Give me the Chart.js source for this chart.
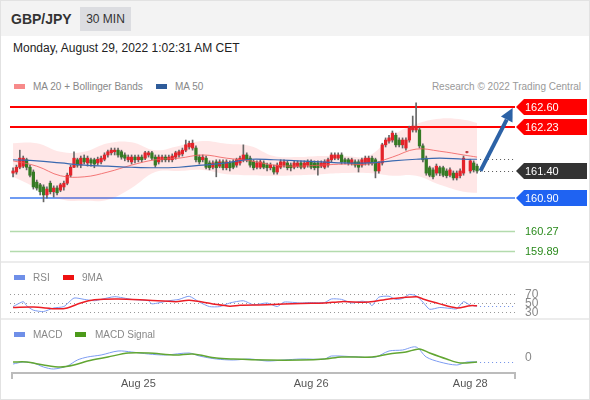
<!DOCTYPE html>
<html>
<head>
<meta charset="utf-8">
<script src="https://cdn.jsdelivr.net/npm/chart.js@4.4.1/dist/chart.umd.min.js"></script>
<style>
  body { margin: 0; background: #fff; font-family: "Liberation Sans", Arial, sans-serif; }
  #wrap { position: relative; width: 590px; height: 400px; overflow: hidden; background: #fff; }
  #frame { position: absolute; left: 0; top: 0; width: 590px; height: 400px; box-sizing: border-box; border: 1px solid #e2e2e2; pointer-events: none; }
  #head { position: absolute; left: 0; top: 0; width: 590px; height: 36px; background: #f3f3f3; }
  #pair { position: absolute; left: 11px; top: 10px; font-size: 14px; line-height: 18px; font-weight: bold; color: #333; }
  #tf { position: absolute; left: 80px; top: 7px; width: 51px; height: 24px; line-height: 24px; text-align: center; background: #dcdde1; font-size: 12px; color: #333; }
  #date { position: absolute; left: 13px; top: 40px; font-size: 12px; line-height: 16px; color: #222; }
  .txt { position: absolute; font-size: 10px; line-height: 13px; color: #888; white-space: nowrap; }
  .sw { position: absolute; width: 11px; height: 5px; }
  .sep { position: absolute; left: 0; width: 590px; height: 2px; background: #ececec; }
  canvas { position: absolute; left: 0; }
</style>
</head>
<body>
<div id="wrap">
  <div id="head"></div>
  <div id="pair">GBP/JPY</div>
  <div id="tf">30 MIN</div>
  <div id="date">Monday, August 29, 2022 1:02:31 AM CET</div>

  <canvas id="mainChart" width="590" height="167" style="top:95px"></canvas>
  <div class="sep" style="top:261px"></div>
  <canvas id="rsiChart" width="590" height="56" style="top:263px"></canvas>
  <div class="sep" style="top:318px"></div>
  <canvas id="macdChart" width="590" height="80" style="top:320px"></canvas>

  <div class="sw" style="left:14px;top:84px;background:#f78a8a"></div>
  <div class="txt" style="left:33px;top:80px">MA 20 + Bollinger Bands</div>
  <div class="sw" style="left:156px;top:84px;background:#2f5c9a"></div>
  <div class="txt" style="left:175px;top:80px">MA 50</div>
  <div class="txt" style="right:9px;top:80px;color:#999">Research © 2022 Trading Central</div>

  <div class="sw" style="left:14px;top:275px;background:#6f8fe8"></div>
  <div class="txt" style="left:33px;top:271px">RSI</div>
  <div class="sw" style="left:63px;top:275px;background:#ee1111"></div>
  <div class="txt" style="left:82px;top:271px">9MA</div>

  <div class="sw" style="left:14px;top:332px;background:#6f8fe8"></div>
  <div class="txt" style="left:33px;top:328px">MACD</div>
  <div class="sw" style="left:75px;top:332px;background:#4c9a1a"></div>
  <div class="txt" style="left:95px;top:328px">MACD Signal</div>
  <div id="frame"></div>
</div>
<script>
'use strict';
// 30 min candles, oldest first
let opens = [
  161.36,161.38,161.47,161.49,161.61,161.47,161.38,161.19,161.14,161.10,
  160.95,161.17,161.01,161.08,161.04,161.10,161.17,161.32,161.47,161.61,
  161.51,161.64,161.55,161.61,161.61,161.55,161.57,161.62,161.70,161.74,
  161.76,161.79,161.76,161.70,161.61,161.57,161.66,161.61,161.66,161.64,
  161.70,161.74,161.66,161.57,161.61,161.66,161.61,161.61,161.66,161.70,
  161.72,161.79,161.85,161.83,161.83,161.66,161.61,161.64,161.55,161.47,
  161.57,161.49,161.57,161.46,161.55,161.57,161.51,161.55,161.61,161.70,
  161.64,161.57,161.47,161.47,161.55,161.51,161.46,161.47,161.38,161.47,
  161.51,161.55,161.51,161.47,161.49,161.55,161.47,161.51,161.57,161.55,
  161.55,161.49,161.47,161.51,161.61,161.64,161.64,161.70,161.61,161.61,
  161.55,161.57,161.57,161.51,161.55,161.55,161.64,161.61,161.40,161.55,
  161.89,161.96,161.98,162.07,161.98,161.89,161.83,161.98,162.17,162.17,
  162.17,161.87,161.64,161.46,161.42,161.36,161.46,161.46,161.40,161.32,
  161.36,161.27,161.31,161.36,161.75,161.40,161.55,161.49
];
let highs = [
  161.46,161.51,161.79,161.68,161.64,161.51,161.42,161.23,161.17,161.14,
  161.10,161.21,161.12,161.12,161.17,161.21,161.36,161.51,161.76,161.64,
  161.68,161.70,161.68,161.64,161.64,161.66,161.68,161.74,161.79,161.83,
  161.83,161.83,161.79,161.74,161.70,161.70,161.70,161.70,161.70,161.77,
  161.77,161.77,161.70,161.70,161.70,161.70,161.70,161.72,161.77,161.79,
  161.83,161.98,161.96,161.98,161.87,161.70,161.70,161.68,161.59,161.59,
  161.61,161.61,161.61,161.61,161.59,161.61,161.64,161.68,161.89,161.74,
  161.68,161.61,161.59,161.61,161.59,161.55,161.55,161.51,161.55,161.61,
  161.61,161.59,161.55,161.59,161.59,161.59,161.59,161.61,161.61,161.59,
  161.59,161.59,161.61,161.64,161.74,161.74,161.74,161.74,161.64,161.64,
  161.64,161.61,161.61,161.64,161.68,161.68,161.68,161.64,161.57,161.92,
  162.02,162.07,162.15,162.11,162.02,162.02,162.02,162.24,162.43,162.68,
  162.21,161.91,161.68,161.49,161.46,161.53,161.49,161.49,161.44,161.46,
  161.40,161.40,161.44,161.68,161.77,161.62,161.59,161.53
];
let lows = [
  161.29,161.34,161.44,161.46,161.42,161.29,161.06,161.04,160.95,160.82,
  160.89,160.97,160.91,160.95,161.01,161.04,161.14,161.29,161.46,161.47,
  161.46,161.53,161.49,161.49,161.46,161.51,161.53,161.59,161.66,161.70,
  161.70,161.66,161.62,161.59,161.57,161.53,161.55,161.57,161.57,161.61,
  161.66,161.61,161.47,161.53,161.57,161.57,161.57,161.57,161.62,161.66,
  161.68,161.76,161.81,161.79,161.57,161.53,161.57,161.44,161.42,161.44,
  161.29,161.46,161.42,161.42,161.40,161.44,161.47,161.51,161.57,161.57,
  161.47,161.42,161.44,161.44,161.44,161.40,161.42,161.34,161.34,161.44,
  161.47,161.42,161.40,161.44,161.46,161.44,161.44,161.47,161.44,161.42,
  161.32,161.46,161.44,161.47,161.57,161.61,161.61,161.53,161.53,161.51,
  161.51,161.47,161.38,161.47,161.51,161.51,161.51,161.27,161.36,161.51,
  161.85,161.92,161.94,161.85,161.85,161.83,161.79,161.94,162.13,162.13,
  161.83,161.57,161.32,161.29,161.25,161.32,161.31,161.29,161.27,161.29,
  161.23,161.23,161.27,161.32,161.74,161.36,161.38,161.36
];
let closes = [
  161.40,161.47,161.64,161.64,161.47,161.32,161.10,161.08,161.01,160.95,
  161.06,161.01,161.08,160.99,161.14,161.17,161.32,161.47,161.64,161.51,
  161.64,161.57,161.64,161.55,161.53,161.62,161.64,161.70,161.76,161.79,
  161.79,161.70,161.66,161.64,161.66,161.66,161.61,161.66,161.61,161.74,
  161.74,161.64,161.51,161.66,161.66,161.61,161.66,161.68,161.74,161.76,
  161.79,161.89,161.92,161.92,161.61,161.57,161.66,161.47,161.46,161.55,
  161.46,161.57,161.46,161.57,161.46,161.47,161.61,161.64,161.70,161.61,
  161.51,161.46,161.55,161.57,161.47,161.46,161.51,161.38,161.51,161.57,
  161.57,161.46,161.46,161.55,161.55,161.47,161.55,161.57,161.47,161.46,
  161.46,161.55,161.57,161.61,161.70,161.70,161.70,161.57,161.57,161.55,
  161.61,161.51,161.47,161.61,161.64,161.64,161.55,161.40,161.55,161.89,
  161.98,162.02,162.11,161.89,161.89,161.98,161.98,162.21,162.24,162.24,
  161.87,161.61,161.36,161.32,161.29,161.49,161.36,161.32,161.31,161.42,
  161.27,161.36,161.40,161.64,161.76,161.59,161.42,161.40
];

// overlays, read at every 7th candle
let maIdx = [0,7,14,21,28,35,42,49,56,63,70,77,84,91,98,105,112,119,126,133,137];
let ma20 = [161.59,161.49,161.31,161.29,161.38,161.51,161.61,161.64,161.70,161.64,161.59,161.51,161.49,161.51,161.53,161.53,161.66,161.81,161.77,161.70,161.66];
let ma50 = [161.61,161.59,161.55,161.51,161.49,161.47,161.46,161.47,161.51,161.55,161.62,161.61,161.59,161.57,161.55,161.55,161.59,161.62,161.64,161.62,161.62];
let bbUp = [161.92,161.92,161.76,161.76,161.92,161.94,161.79,161.87,161.96,161.91,161.87,161.68,161.66,161.68,161.68,161.68,162.06,162.28,162.38,162.36,162.30];
let bbLow = [161.29,161.08,160.87,160.84,160.86,161.08,161.38,161.40,161.42,161.34,161.32,161.31,161.32,161.34,161.36,161.36,161.31,161.31,161.14,161.01,160.99];

let rsiIdx = [0,3,4,6,9,12,15,18,21,24,26,30,35,40,41,46,49,52,55,58,61,64,68,71,75,78,80,85,87,92,94,97,100,103,105,106,108,111,113,115,117,119,121,123,126,129,131,133,135,137];
let rsiVals = [42,53,44,34,31,39,42,61,58,55,58,64,58,55,48,55,58,65,52,42,42,50,55,46,50,42,52,50,51,51,59,58,50,54,51,44,63,65,58,60,69,66,52,36,40,38,37,53,45,43];
let ma9Idx = [0,6,13,16,20,24,31,40,48,52,59,64,67,75,85,92,97,105,111,119,121,126,131,135,137];
let ma9Vals = [40,41,37,39,50,57,59,56,53,56,48,43,45,46,49,50,53,52,59,64,59,48,39,44,44];

let macdIdx = [0,3,6,9,12,16,19,22,26,31,35,40,45,52,55,60,65,70,75,80,85,92,94,102,107,111,115,119,122,126,131,134,137];
let macdVals = [-0.06,-0.04,-0.05,-0.09,-0.11,-0.08,-0.02,0.01,0.03,0.07,0.06,0.04,0.03,0.05,0.02,-0.01,-0.02,-0.01,-0.03,-0.02,-0.01,-0.01,0.02,0.01,0.01,0.07,0.08,0.11,0.01,-0.04,-0.07,-0.04,-0.04];
let signalIdx = [0,4,9,14,18,22,28,34,40,48,53,60,65,75,85,92,97,106,111,116,120,123,128,132,137];
let signalVals = [-0.04,-0.04,-0.07,-0.09,-0.07,-0.03,0.01,0.05,0.05,0.03,0.04,0.00,-0.01,-0.02,-0.02,-0.01,0.01,0.01,0.04,0.06,0.09,0.05,-0.01,-0.05,-0.04];

let resistLevels = [162.60, 162.23];
let lastPrice = 161.40;
let supportLevel = 160.90;
let targetLevels = [160.27, 159.89];
let rsiLevels = [70, 50, 30];
let dayLabels = ['Aug 25', 'Aug 26', 'Aug 28'];
let dayIdx = [37, 88, 135];

let xMin = -0.9;
let xMax = 148.2;
let lastIdx = closes.length - 1;
let FONT = '"Liberation Sans", Arial, sans-serif';

function pts(idx, vals) {
    let out = [];
    for (let i = 0; i < idx.length; i++) {
        out.push({ x: idx[i], y: vals[i] });
    }
    return out;
}

let wickData = [];
let bodyData = [];
let bodyColors = [];
for (let i = 0; i < closes.length; i++) {
    wickData.push({ x: i, y: [lows[i], highs[i]] });
    bodyData.push({ x: i, y: [opens[i], closes[i]] });
    bodyColors.push(closes[i] >= opens[i] ? '#e3232a' : '#357a24');
}

function hLine(ctx, x1, x2, y, color, width, dash) {
    ctx.save();
    ctx.strokeStyle = color;
    ctx.lineWidth = width;
    ctx.setLineDash(dash || []);
    ctx.beginPath();
    ctx.moveTo(x1, y);
    ctx.lineTo(x2, y);
    ctx.stroke();
    ctx.restore();
}

function tag(ctx, x, y, text, bg, fg) {
    ctx.save();
    if (bg) {
        ctx.fillStyle = bg;
        ctx.beginPath();
        ctx.moveTo(x, y);
        ctx.lineTo(x + 8, y - 8);
        ctx.lineTo(x + 71, y - 8);
        ctx.lineTo(x + 71, y + 8);
        ctx.lineTo(x + 8, y + 8);
        ctx.closePath();
        ctx.fill();
    }
    ctx.fillStyle = fg;
    ctx.font = '11px ' + FONT;
    ctx.textBaseline = 'middle';
    ctx.fillText(text, x + 9, y + 0.5);
    ctx.restore();
}

let mainDeco = {
    id: 'mainDeco',
    beforeDatasetsDraw(chart) {
        let ctx = chart.ctx;
        let ys = chart.scales.y;
        let a = chart.chartArea;
        for (let v of resistLevels) {
            hLine(ctx, a.left, a.right, Math.round(ys.getPixelForValue(v)), '#ff0000', 2);
        }
        hLine(ctx, a.left, a.right, Math.round(ys.getPixelForValue(supportLevel)), '#6f9cf3', 2);
        for (let v of targetLevels) {
            hLine(ctx, a.left, a.right, Math.round(ys.getPixelForValue(v)) + 0.5, '#b3dbad', 1.5);
        }
    },
    afterDraw(chart) {
        let ctx = chart.ctx;
        let xs = chart.scales.x;
        let ys = chart.scales.y;
        let a = chart.chartArea;
        let xl = xs.getPixelForValue(lastIdx) + 3;

        // dotted lines to the last price and last MA 50
        hLine(ctx, xl, a.right, Math.round(ys.getPixelForValue(lastPrice)) + 0.5, '#555', 1, [1, 3]);
        hLine(ctx, xl, a.right, Math.round(ys.getPixelForValue(ma50[ma50.length - 1])) + 0.5, '#555', 1, [1, 3]);

        for (let v of resistLevels) {
            tag(ctx, a.right + 1, Math.round(ys.getPixelForValue(v)), v.toFixed(2), '#ff0000', '#fff');
        }
        tag(ctx, a.right + 1, Math.round(ys.getPixelForValue(lastPrice)), lastPrice.toFixed(2), '#333333', '#fff');
        tag(ctx, a.right + 1, Math.round(ys.getPixelForValue(supportLevel)), supportLevel.toFixed(2), '#1f63f2', '#fff');
        for (let v of targetLevels) {
            tag(ctx, a.right + 1, Math.round(ys.getPixelForValue(v)), v.toFixed(2), null, '#2a8a1c');
        }

        // arrow towards the first resistance
        let x0 = xs.getPixelForValue(lastIdx + 1);
        let y0 = ys.getPixelForValue(lastPrice);
        let x1 = xs.getPixelForValue(xMax - 0.7);
        let y1 = ys.getPixelForValue(resistLevels[0]) + 1;
        let ang = Math.atan2(y1 - y0, x1 - x0);
        let hl = 13, hw = 6.5;
        let bx = x1 - hl * Math.cos(ang);
        let by = y1 - hl * Math.sin(ang);
        ctx.save();
        ctx.strokeStyle = '#2c62a6';
        ctx.fillStyle = '#2c62a6';
        ctx.lineWidth = 4;
        ctx.beginPath();
        ctx.moveTo(x0, y0);
        ctx.lineTo(bx, by);
        ctx.stroke();
        ctx.beginPath();
        ctx.moveTo(x1, y1);
        ctx.lineTo(bx + hw * Math.sin(ang), by - hw * Math.cos(ang));
        ctx.lineTo(bx - hw * Math.sin(ang), by + hw * Math.cos(ang));
        ctx.closePath();
        ctx.fill();
        ctx.restore();
    }
};

let rsiDeco = {
    id: 'rsiDeco',
    beforeDatasetsDraw(chart) {
        let ys = chart.scales.y;
        let a = chart.chartArea;
        for (let v of rsiLevels) {
            hLine(chart.ctx, a.left, a.right, Math.round(ys.getPixelForValue(v)) + 0.5, '#999', 1, [1, 3]);
        }
    },
    afterDraw(chart) {
        let ctx = chart.ctx;
        let xs = chart.scales.x;
        let ys = chart.scales.y;
        let a = chart.chartArea;
        hLine(ctx, xs.getPixelForValue(lastIdx) + 3, a.right, Math.round(ys.getPixelForValue(rsiVals[rsiVals.length - 1])) + 0.5, '#6f8fe8', 1, [1, 3]);
        ctx.save();
        ctx.font = '12px ' + FONT;
        ctx.textBaseline = 'middle';
        for (let v of rsiLevels) {
            let y = Math.round(ys.getPixelForValue(v));
            ctx.fillStyle = '#fff';
            ctx.fillRect(a.right + 8, y - 5, 22, 10);
            ctx.fillStyle = '#888';
            ctx.fillText(String(v), a.right + 10, y + 0.5);
        }
        ctx.restore();
    }
};

let macdDeco = {
    id: 'macdDeco',
    afterDraw(chart) {
        let ctx = chart.ctx;
        let xs = chart.scales.x;
        let ys = chart.scales.y;
        let a = chart.chartArea;
        hLine(ctx, xs.getPixelForValue(lastIdx) + 3, a.right, Math.round(ys.getPixelForValue(macdVals[macdVals.length - 1])) + 0.5, '#6f8fe8', 1, [1, 3]);
        ctx.save();
        ctx.font = '12px ' + FONT;
        ctx.textBaseline = 'middle';
        ctx.fillStyle = '#888';
        ctx.fillText('0', a.right + 10, Math.round(ys.getPixelForValue(0)));

        // time axis
        let yb = Math.round(a.bottom) + 1;
        ctx.strokeStyle = '#bcbcbc';
        ctx.lineWidth = 2;
        ctx.beginPath();
        ctx.moveTo(a.left + 2, yb + 6);
        ctx.lineTo(a.left + 2, yb);
        ctx.lineTo(a.right, yb);
        ctx.lineTo(a.right, yb + 6);
        ctx.stroke();
        ctx.font = '11px ' + FONT;
        ctx.fillStyle = '#555';
        ctx.textAlign = 'center';
        for (let k = 0; k < dayLabels.length; k++) {
            ctx.fillText(dayLabels[k], xs.getPixelForValue(dayIdx[k]), yb + 11);
        }
        ctx.restore();
    }
};

let baseOptions = function (yMin, yMax, padBottom) {
    return {
        responsive: false,
        animation: false,
        devicePixelRatio: 1,
        layout: { padding: { left: 10, right: 75, top: 0, bottom: padBottom } },
        plugins: { legend: { display: false }, tooltip: { enabled: false } },
        scales: {
            x: { type: 'linear', min: xMin, max: xMax, offset: false, display: false },
            y: { type: 'linear', min: yMin, max: yMax, display: false }
        }
    };
};

new Chart(document.getElementById('mainChart'), {
    type: 'bar',
    data: {
        datasets: [
            { type: 'line', data: pts(maIdx, bbUp), borderWidth: 0, pointRadius: 0, tension: 0.4,
              fill: '+1', backgroundColor: 'rgba(255, 70, 70, 0.13)', order: 10 },
            { type: 'line', data: pts(maIdx, bbLow), borderWidth: 0, pointRadius: 0, tension: 0.4,
              fill: false, order: 10 },
            { data: wickData, backgroundColor: '#666', grouped: false, maxBarThickness: 1,
              categoryPercentage: 1, barPercentage: 1, order: 4 },
            { data: bodyData, backgroundColor: bodyColors, grouped: false, maxBarThickness: 2.6,
              categoryPercentage: 1, barPercentage: 1, order: 3 },
            { type: 'line', data: pts(maIdx, ma20), borderColor: 'rgba(240, 90, 90, 0.8)', borderWidth: 1,
              pointRadius: 0, tension: 0.4, fill: false, order: 2 },
            { type: 'line', data: pts(maIdx, ma50), borderColor: '#3a69b0', borderWidth: 1.2,
              pointRadius: 0, tension: 0.4, fill: false, order: 1 }
        ]
    },
    options: baseOptions(159.692, 162.825, 0),
    plugins: [mainDeco]
});

new Chart(document.getElementById('rsiChart'), {
    type: 'line',
    data: {
        datasets: [
            { data: pts(ma9Idx, ma9Vals), borderColor: '#ec1d25', borderWidth: 1.5, pointRadius: 0, tension: 0.3 },
            { data: pts(rsiIdx, rsiVals), borderColor: '#7d9cf2', borderWidth: 1, pointRadius: 0, tension: 0.2 }
        ]
    },
    options: baseOptions(14.4, 138.9, 0),
    plugins: [rsiDeco]
});

new Chart(document.getElementById('macdChart'), {
    type: 'line',
    data: {
        datasets: [
            { data: pts(signalIdx, signalVals), borderColor: '#62a632', borderWidth: 1.5, pointRadius: 0, tension: 0.3 },
            { data: pts(macdIdx, macdVals), borderColor: '#7d9cf2', borderWidth: 1, pointRadius: 0, tension: 0.3 }
        ]
    },
    options: baseOptions(-0.14, 0.38, 28),
    plugins: [macdDeco]
});
</script>
</body>
</html>
